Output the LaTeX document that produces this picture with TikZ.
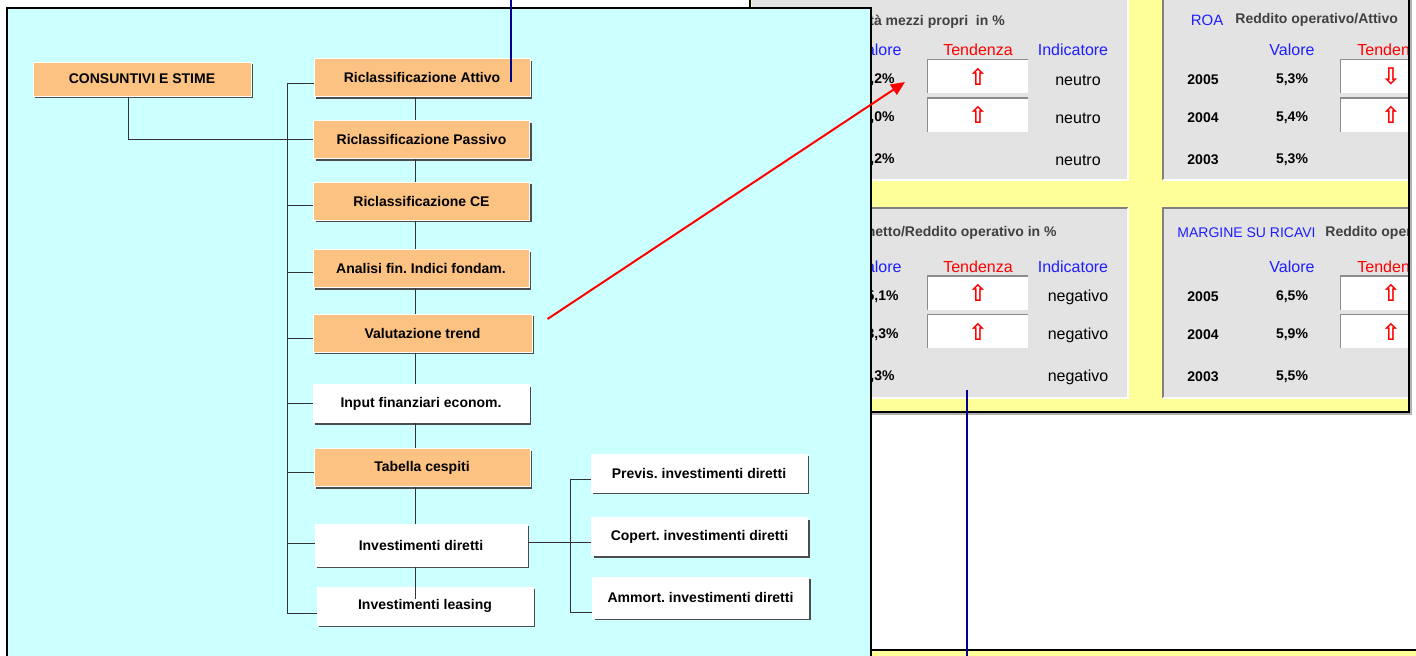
\documentclass[tikz,border=0pt]{standalone}
\usepackage{fontspec}
\setmainfont{Liberation Sans}
\newfontfamily\arrowfont{DejaVu Sans}
\usetikzlibrary{arrows.meta,shadows}
\definecolor{cyanbg}{RGB}{204,255,255}
\definecolor{yelbg}{RGB}{255,255,153}
\definecolor{panel}{RGB}{227,227,227}
\definecolor{orfill}{RGB}{252,194,130}
\definecolor{navy}{RGB}{0,0,140}
\definecolor{txtblue}{RGB}{30,30,255}
\definecolor{txtgray}{RGB}{64,64,64}

\begin{document}
\begin{tikzpicture}[x=0.5pt,y=-0.5pt,
  obox/.style={rectangle,draw=white,line width=0.5pt,fill=orfill,
               font=\fontsize{7}{8}\selectfont\bfseries,
               minimum width=108pt,minimum height=19pt,inner sep=0pt,
               drop shadow={shadow xshift=1pt,shadow yshift=-1pt,fill=black!70,opacity=1}},
  wbox/.style={obox,fill=white},
  conn/.style={black!80,line width=0.5pt},
  hdr/.style={font=\fontsize{7}{8}\selectfont\bfseries,text=txtgray,inner sep=0pt},
  colb/.style={font=\fontsize{8}{9}\selectfont,text=txtblue,inner sep=0pt},
  colr/.style={colb,text=red},
  num/.style={font=\fontsize{7}{8}\selectfont\bfseries,inner sep=0pt},
  word/.style={font=\fontsize{8}{9}\selectfont,inner sep=0pt},
  tbox/.style={rectangle,fill=white,minimum width=50pt,minimum height=16.5pt,inner sep=0pt,
               font=\arrowfont\bfseries\fontsize{11.5}{11.5}\selectfont,text=red},
  inset/.style={draw=black!45,line width=0.8pt},
  link/.style={navy,line width=1.3pt},
  jump/.style={red,line width=1pt,-{Triangle[length=7pt,width=6pt]}}]

  \useasboundingbox (0,0) rectangle (1416,655);
  \fill[white] (0,0) rectangle (1416,655);

  % screenshot behind
  \begin{scope}
    \clip (750,-5) rectangle (1409,412);
    \fill[yelbg] (750,-5) rectangle (1409,412);
    \fill[panel] (752,-5) rectangle (1128,180);
    \draw[white,line width=1pt] (1128,-5) -- (1128,180) -- (752,180);
    \fill[panel] (1163,-5) rectangle (1420,180);
    \draw[black!50,line width=1pt] (1163,-5) -- (1163,180);
    \draw[white,line width=1pt] (1163,180) -- (1420,180);
    \fill[panel] (752,208) rectangle (1128,398);
    \draw[black!50,line width=1pt] (752,208) -- (1128,208);
    \draw[white,line width=1pt] (1128,208) -- (1128,398) -- (752,398);
    \fill[panel] (1163,208) rectangle (1420,398);
    \draw[black!50,line width=1pt] (1163,398) -- (1163,208) -- (1420,208);
    \draw[white,line width=1pt] (1163,398) -- (1420,398);

    % redditivita mezzi propri
    \node[hdr,anchor=west] (roeHead) at (869,22) {tà mezzi propri\ \ in \%};
    \node[colb,anchor=east] (roeVal) at (902,50) {Valore};
    \node[colr] (roeTen) at (978,50) {Tendenza};
    \node[colb] (roeInd) at (1073,50) {Indicatore};
    \node[tbox] (roeT1) at (978,76.5) {⇧};
    \node[tbox] (roeT2) at (978,115) {⇧};
    \draw[inset] (roeT1.south west) -- (roeT1.north west) -- (roeT1.north east);
    \draw[inset] (roeT2.south west) -- (roeT2.north west) -- (roeT2.north east);
    \node[num,anchor=east] (roeV1) at (895,80) {,2\%};
    \node[num,anchor=east] (roeV2) at (895,118) {,0\%};
    \node[num,anchor=east] (roeV3) at (895,160) {,2\%};
    \node[word] (roeN1) at (1078,80) {neutro};
    \node[word] (roeN2) at (1078,118) {neutro};
    \node[word] (roeN3) at (1078,160) {neutro};

    % ROA
    \node[colb,font=\fontsize{7.5}{8}\selectfont] (roaName) at (1207,20) {ROA};
    \node[hdr,anchor=west] (roaHead) at (1235,20) {Reddito operativo/Attivo};
    \node[colb] (roaVal) at (1292,50) {Valore};
    \node[colr,anchor=west] (roaTen) at (1357,50) {Tendenza};
    \node[tbox] (roaT1) at (1391,76.5) {⇩};
    \node[tbox] (roaT2) at (1391,115) {⇧};
    \draw[inset] (roaT1.south west) -- (roaT1.north west) -- (roaT1.north east);
    \draw[inset] (roaT2.south west) -- (roaT2.north west) -- (roaT2.north east);
    \node[num] (roaY1) at (1203,80) {2005};
    \node[num] (roaY2) at (1203,118) {2004};
    \node[num] (roaY3) at (1203,160) {2003};
    \node[num] (roaV1) at (1292,80) {5,3\%};
    \node[num] (roaV2) at (1292,118) {5,4\%};
    \node[num] (roaV3) at (1292,160) {5,3\%};

    % utile netto / reddito operativo
    \node[hdr,anchor=east] (incHead) at (1057,233) {netto/Reddito operativo in \%};
    \node[colb,anchor=east] (incVal) at (902,267) {Valore};
    \node[colr] (incTen) at (978,267) {Tendenza};
    \node[colb] (incInd) at (1073,267) {Indicatore};
    \node[tbox] (incT1) at (978,293) {⇧};
    \node[tbox] (incT2) at (978,331.5) {⇧};
    \draw[inset] (incT1.south west) -- (incT1.north west) -- (incT1.north east);
    \draw[inset] (incT2.south west) -- (incT2.north west) -- (incT2.north east);
    \node[num,anchor=east] (incV1) at (899,297) {5,1\%};
    \node[num,anchor=east] (incV2) at (899,335) {3,3\%};
    \node[num,anchor=east] (incV3) at (895,377) {,3\%};
    \node[word] (incN1) at (1078,297) {negativo};
    \node[word] (incN2) at (1078,335) {negativo};
    \node[word] (incN3) at (1078,377) {negativo};

    % margine su ricavi
    \node[colb,font=\fontsize{7}{8}\selectfont,anchor=west] (mrgName) at (1177,233) {MARGINE SU RICAVI};
    \node[hdr,anchor=west] (mrgHead) at (1325,233) {Reddito operativo};
    \node[colb] (mrgVal) at (1292,267) {Valore};
    \node[colr,anchor=west] (mrgTen) at (1357,267) {Tendenza};
    \node[tbox] (mrgT1) at (1391,293) {⇧};
    \node[tbox] (mrgT2) at (1391,331.5) {⇧};
    \draw[inset] (mrgT1.south west) -- (mrgT1.north west) -- (mrgT1.north east);
    \draw[inset] (mrgT2.south west) -- (mrgT2.north west) -- (mrgT2.north east);
    \node[num] (mrgY1) at (1203,297) {2005};
    \node[num] (mrgY2) at (1203,335) {2004};
    \node[num] (mrgY3) at (1203,377) {2003};
    \node[num] (mrgV1) at (1292,297) {6,5\%};
    \node[num] (mrgV2) at (1292,335) {5,9\%};
    \node[num] (mrgV3) at (1292,377) {5,5\%};
  \end{scope}
  \draw[black!30,line width=0.8pt] (752,414) -- (1411,414) -- (1411,-5);
  \draw[black,line width=1pt] (750,-5) -- (750,412) -- (1409,412) -- (1409,-5);
  \draw[black,line width=1pt] (871,650) -- (1416,650);
  \fill[yelbg] (871,651) rectangle (1416,660);

  % menu panel
  \draw[black,line width=0.8pt,fill=cyanbg] (7,8) rectangle (871,670);

  \node[obox,minimum width=109pt,minimum height=17pt] (cons) at (142,79) {CONSUNTIVI E STIME};
  \node[obox] (attivo)  at (422,77.5)  {Riclassificazione Attivo};
  \node[obox] (passivo) at (421.5,139.5) {Riclassificazione Passivo};
  \node[obox] (ce)      at (421.5,201) {Riclassificazione CE};
  \node[obox] (analisi) at (421,268.5) {Analisi fin.\ Indici fondam.};
  \node[obox,minimum width=109.5pt] (trend) at (422.5,333) {Valutazione trend};
  \node[wbox] (input)   at (421,403.5) {Input finanziari econom.};
  \node[obox] (cespiti) at (422,467.5) {Tabella cespiti};
  \node[wbox,minimum width=106pt,minimum height=21pt] (diretti) at (421,545) {Investimenti diretti};
  \node[wbox] (leasing) at (425,606) {Investimenti leasing};
  \node[wbox] (previs)  at (699,473)   {Previs.\ investimenti diretti};
  \node[wbox] (copert)  at (699.5,536.5) {Copert.\ investimenti diretti};
  \node[wbox,minimum height=20.5pt] (ammort) at (700.5,597.5) {Ammort.\ investimenti diretti};

  \coordinate (spine) at (287,83);
  \coordinate (chain) at (415,0);
  \coordinate (subspine) at (570,479);

  \draw[conn] ([yshift=-2.75pt]attivo.west) -- (spine);
  \draw[conn] (spine) -- ([yshift=-3.5pt]leasing.west -| spine);
  \draw[conn] (passivo.west) -- (passivo.west -| spine);
  \draw[conn] ([yshift=-2pt]ce.west) -- ([yshift=-2pt]ce.west -| spine);
  \draw[conn] ([yshift=-1.75pt]analisi.west) -- ([yshift=-1.75pt]analisi.west -| spine);
  \draw[conn] ([yshift=-2.5pt]trend.west) -- ([yshift=-2.5pt]trend.west -| spine);
  \draw[conn] (input.west) -- (input.west -| spine);
  \draw[conn] ([yshift=-2.25pt]cespiti.west) -- ([yshift=-2.25pt]cespiti.west -| spine);
  \draw[conn] ([yshift=1pt]diretti.west) -- ([yshift=1pt]diretti.west -| spine);
  \draw[conn] ([yshift=-3.5pt]leasing.west) -- ([yshift=-3.5pt]leasing.west -| spine);
  \draw[conn] ([xshift=-7pt]cons.south) |- (passivo.west);

  \draw[conn] (attivo.south -| chain) -- (passivo.north -| chain);
  \draw[conn] (passivo.south -| chain) -- (ce.north -| chain);
  \draw[conn] (ce.south -| chain) -- (analisi.north -| chain);
  \draw[conn] (analisi.south -| chain) -- (trend.north -| chain);
  \draw[conn] (trend.south -| chain) -- (input.north -| chain);
  \draw[conn] (input.south -| chain) -- (cespiti.north -| chain);
  \draw[conn] (cespiti.south -| chain) -- (diretti.north -| chain);
  \draw[conn] (diretti.south -| chain) -- ([yshift=-6pt]leasing.north -| chain);

  \draw[conn] ([yshift=-3pt]previs.west) -| ([yshift=-7.25pt]ammort.west -| subspine)
    -- ([yshift=-7.25pt]ammort.west);
  \draw[conn] ([yshift=-2.75pt]copert.west -| diretti.east) -- ([yshift=-2.75pt]copert.west);

  % links
  \coordinate (navtop) at (511,-5);
  \coordinate (navend) at (511,82);
  \coordinate (navlow) at (967,390);
  \coordinate (navfoot) at (967,665);
  \coordinate (aim) at (905,82);
  \draw[link] (navtop) -- (navend);
  \draw[link] (navlow) -- (navfoot);
  \draw[jump] ([xshift=7.5pt,yshift=7pt]trend.east) -- (aim);
\end{tikzpicture}
\end{document}
